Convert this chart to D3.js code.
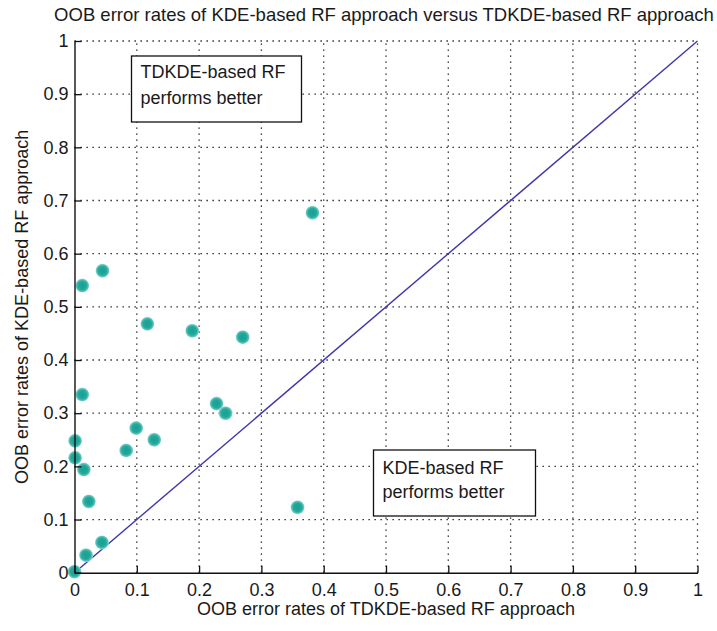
<!DOCTYPE html>
<html>
<head>
<meta charset="utf-8">
<script src="https://cdn.jsdelivr.net/npm/d3@7/dist/d3.min.js"></script>
<style>
  html, body { margin: 0; padding: 0; background: #fff; }
  svg { display: block; }
  text { font-family: "Liberation Sans", Arial, sans-serif; fill: #1a1a1a; }
</style>
</head>
<body>
<svg id="chart" width="717" height="631"></svg>
<script>
// OOB error rates per dataset: TDKDE-based RF (x) vs KDE-based RF (y)
const tdkdeRates = [0.0125, 0.045, 0.117, 0.189, 0.270, 0.0125, 0.228, 0.2425, 0.001, 0.099,
                    0.128, 0.001, 0.015, 0.083, 0.023, 0.358, 0.044, 0.0185, 0.000, 0.382];
const kdeRates   = [0.540, 0.568, 0.468, 0.455, 0.443, 0.335, 0.318, 0.300, 0.248, 0.272,
                    0.250, 0.216, 0.194, 0.230, 0.134, 0.123, 0.057, 0.033, 0.002, 0.677];

const tickValues = [0, 0.1, 0.2, 0.3, 0.4, 0.5, 0.6, 0.7, 0.8, 0.9, 1];
const tickLabels = ["0", "0.1", "0.2", "0.3", "0.4", "0.5", "0.6", "0.7", "0.8", "0.9", "1"];

const titleText = "OOB error rates of KDE-based RF approach versus TDKDE-based RF approach";
const xLabelText = "OOB error rates of TDKDE-based RF approach";
const yLabelText = "OOB error rates of KDE-based RF approach";
const noteUpper = ["TDKDE-based RF", "performs better"];
const noteLower = ["KDE-based RF", "performs better"];

const svg = d3.select("#chart");
const W = 717, H = 631;
const plot = { left: 74.5, top: 41, right: 697.5, bottom: 572.7 };

svg.append("rect").attr("width", W).attr("height", H).attr("fill", "#fff");

const x = d3.scaleLinear().domain([0, 1]).range([plot.left, plot.right]);
const y = d3.scaleLinear().domain([0, 1]).range([plot.bottom, plot.top]);

// point marker gradient
const defs = svg.append("defs");
const grad = defs.append("radialGradient").attr("id", "dot");
grad.append("stop").attr("offset", "0%").attr("stop-color", "#17a093");
grad.append("stop").attr("offset", "60%").attr("stop-color", "#23a89c");
grad.append("stop").attr("offset", "85%").attr("stop-color", "#5cc2b8");
grad.append("stop").attr("offset", "100%").attr("stop-color", "#b5e4df");

// dotted grid
const grid = svg.append("g").attr("stroke", "#111").attr("stroke-width", 1.3)
  .attr("stroke-dasharray", "1.3,4.7");
grid.selectAll("line.v").data(tickValues.slice(1)).join("line").attr("class", "v")
  .attr("x1", d => x(d)).attr("x2", d => x(d))
  .attr("y1", plot.bottom).attr("y2", plot.top);
grid.selectAll("line.h").data(tickValues.slice(1)).join("line").attr("class", "h")
  .attr("x1", plot.left).attr("x2", plot.right)
  .attr("y1", d => y(d)).attr("y2", d => y(d));

// equal-performance diagonal
svg.append("line")
  .attr("x1", x(0)).attr("y1", y(0)).attr("x2", x(1)).attr("y2", y(1))
  .attr("stroke", "#3f36ad").attr("stroke-width", 1.4);

// annotation boxes
function note(lines, bx, by, bw, bh, tx, ty, lh) {
  const g = svg.append("g");
  g.append("rect").attr("x", bx).attr("y", by).attr("width", bw).attr("height", bh)
    .attr("fill", "#fff").attr("stroke", "#111").attr("stroke-width", 1.3);
  g.selectAll("text").data(lines).join("text")
    .attr("x", tx).attr("y", (d, i) => ty + i * lh)
    .attr("font-size", 18).text(d => d);
}
note(noteUpper, 131.5, 56, 170, 66, 140.5, 78, 26);
note(noteLower, 373.5, 450, 162, 66, 382.5, 474, 24);

// scatter points
svg.append("g").selectAll("circle")
  .data(tdkdeRates.map((v, i) => [v, kdeRates[i]]))
  .join("circle")
  .attr("cx", d => x(d[0])).attr("cy", d => y(d[1]))
  .attr("r", 7).attr("fill", "url(#dot)");

// axes with inward ticks
const fmt = (d) => tickLabels[tickValues.indexOf(d)];
const xAxis = svg.append("g").attr("transform", `translate(0,${plot.bottom})`)
  .call(d3.axisBottom(x).tickValues(tickValues).tickFormat(fmt)
    .tickSizeInner(-7).tickSizeOuter(0).tickPadding(11));
const yAxis = svg.append("g").attr("transform", `translate(${plot.left},0)`)
  .call(d3.axisLeft(y).tickValues(tickValues).tickFormat(fmt)
    .tickSizeInner(-7).tickSizeOuter(0).tickPadding(6));
[xAxis, yAxis].forEach(a => {
  a.select(".domain").attr("stroke", "#111").attr("stroke-width", 1.4);
  a.selectAll(".tick line").attr("stroke", "#111").attr("stroke-width", 1.3);
  a.selectAll(".tick text").attr("font-size", 18).attr("fill", "#1a1a1a")
    .style("font-family", '"Liberation Sans", Arial, sans-serif');
});

// titles
svg.append("text").attr("x", 384).attr("y", 21)
  .attr("text-anchor", "middle").attr("font-size", 18.5).text(titleText);
svg.append("text").attr("x", (plot.left + plot.right) / 2).attr("y", 615)
  .attr("text-anchor", "middle").attr("font-size", 18).text(xLabelText);
svg.append("text")
  .attr("transform", `translate(28,${(plot.top + plot.bottom) / 2}) rotate(-90)`)
  .attr("text-anchor", "middle").attr("font-size", 18).text(yLabelText);
</script>
</body>
</html>
